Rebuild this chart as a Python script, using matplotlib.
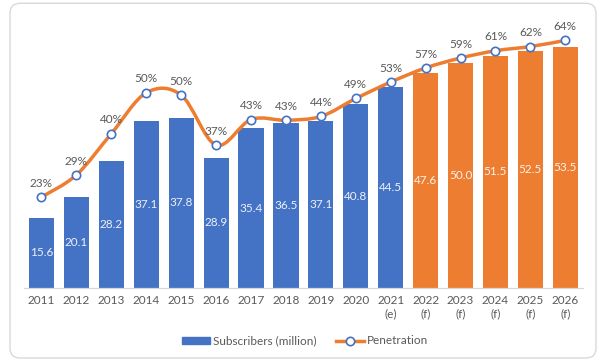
import numpy as np
import matplotlib
matplotlib.use('Agg')
import matplotlib.pyplot as plt
from matplotlib.path import Path
from matplotlib.patches import PathPatch, FancyBboxPatch, Patch
from matplotlib.lines import Line2D
from matplotlib.transforms import IdentityTransform

# Data
years = ['2011', '2012', '2013', '2014', '2015', '2016', '2017', '2018', '2019', '2020',
         '2021\n(e)', '2022\n(f)', '2023\n(f)', '2024\n(f)', '2025\n(f)', '2026\n(f)']
subscribers = [15.6, 20.1, 28.2, 37.1, 37.8, 28.9, 35.4, 36.5, 37.1, 40.8,
               44.5, 47.6, 50.0, 51.5, 52.5, 53.5]
penetration = [23.0, 28.8, 39.6, 50.3, 49.7, 36.6, 43.3, 43.1, 44.1, 48.8,
               53.1, 56.8, 59.4, 61.3, 62.4, 64.0]
forecast = [False] * 11 + [True] * 5

# Style
BLUE = '#4472C4'
ORANGE = '#ED7D31'
GREY_TXT = '#595959'
GREY_LN = '#d9d9d9'
FS = 8.5

plt.rcParams['font.family'] = ['Lato', 'DejaVu Sans']

W, H = 600, 360
fig = plt.figure(figsize=(W / 100, H / 100), dpi=100)
ax = fig.add_axes([24 / W, 72 / H, (582.8 - 24) / W, (288 - 17.5) / H])
x = np.arange(len(years))

#%% Bars
colors = [ORANGE if f else BLUE for f in forecast]
bars = ax.bar(x, subscribers, width=0.72, color=colors, zorder=2)
ax.bar_label(bars, labels=[f'{v:.1f}' for v in subscribers], label_type='center',
             color='white', alpha=0.9, fontsize=FS)
ax.set_ylim(0, 60)
ax.set_xlim(-0.5, len(years) - 0.5)
ax.set_xticks(x)
ax.set_xticklabels(years, linespacing=1.25)
ax.tick_params(axis='x', length=0, pad=5, labelsize=FS, labelcolor=GREY_TXT)
ax.set_yticks([])
for s in ['top', 'left', 'right']:
    ax.spines[s].set_visible(False)
ax.spines['bottom'].set_color(GREY_LN)
ax.spines['bottom'].set_linewidth(0.9)

#%% Penetration line (smoothed, Catmull-Rom style bezier)
ax2 = ax.twinx()
ax2.set_ylim(-0.8, 70)
ax2.set_yticks([])
for s in ax2.spines.values():
    s.set_visible(False)

pts = np.column_stack([x, penetration]).astype(float)
ext = np.vstack([pts[0], pts, pts[-1]])
verts = [pts[0]]
codes = [Path.MOVETO]
for i in range(len(pts) - 1):
    p0, p1, p2, p3 = ext[i], ext[i + 1], ext[i + 2], ext[i + 3]
    c1 = p1 + (p2 - p0) / 6.0
    c2 = p2 - (p3 - p1) / 6.0
    verts += [c1, c2, p2]
    codes += [Path.CURVE4] * 3
ax2.add_patch(PathPatch(Path(verts, codes), fill=False, edgecolor=ORANGE,
                        lw=2.5, capstyle='round', zorder=3))
ax2.plot(x, penetration, ls='none', marker='o', ms=6, mfc='white', mec=BLUE,
         mew=1.2, zorder=4)
for xi, p in zip(x, penetration):
    ax2.annotate(f'{p:.0f}%', (xi, p), xytext=(0, 10), textcoords='offset points',
                 ha='center', va='center', fontsize=FS, color=GREY_TXT)

#%% Legend
handles = [Patch(color=BLUE),
           Line2D([], [], color=ORANGE, lw=2.5, marker='o', ms=6, mfc='white',
                  mec=BLUE, mew=1.2)]
fig.legend(handles, ['Subscribers (million)', 'Penetration'], loc='center',
           bbox_to_anchor=(305 / W, 1 - 341 / H), ncol=2, frameon=False,
           fontsize=FS, labelcolor=GREY_TXT, handlelength=2.4, handleheight=0.5,
           handletextpad=0.25, columnspacing=1.6)

#%% Border
fig.patches.append(FancyBboxPatch((10, 2), 586, 354.7,
                                  boxstyle='round,pad=0,rounding_size=10',
                                  transform=IdentityTransform(), fill=False,
                                  ec=GREY_LN, lw=1))

fig.savefig('out.png', dpi=100)
